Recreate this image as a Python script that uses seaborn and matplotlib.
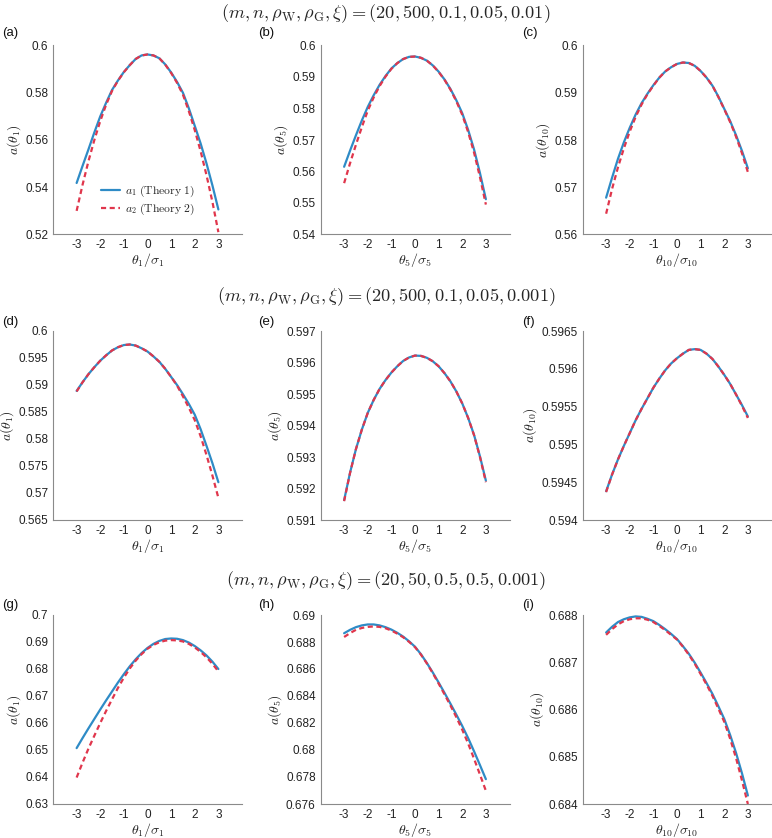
import numpy as np
import pandas as pd
import matplotlib
matplotlib.use("Agg")
import matplotlib.pyplot as plt
import seaborn as sns

sns.set_style("white")
plt.rcParams["font.family"] = ["Liberation Sans", "DejaVu Sans"]
plt.rcParams["mathtext.fontset"] = "cm"
plt.rcParams["axes.unicode_minus"] = False

# x grid (theta_k / sigma_k)
theta = [-3, -2.75, -2.5, -2.25, -2, -1.75, -1.5, -1.25, -1, -0.75, -0.5, -0.25, 0,
         0.25, 0.5, 0.75, 1, 1.25, 1.5, 1.75, 2, 2.25, 2.5, 2.75, 3]

# row 1: (20, 500, 0.1, 0.05, 0.01)
a1_a = [0.5418, 0.5490, 0.5560, 0.5632, 0.5700, 0.5758, 0.5812, 0.5852, 0.5888, 0.5917, 0.5943, 0.5958, 0.5962,
        0.5958, 0.5946, 0.5920, 0.5886, 0.5846, 0.5800, 0.5734, 0.5660, 0.5585, 0.5500, 0.5407, 0.5306]
a2_a = [0.5300, 0.5410, 0.5510, 0.5600, 0.5680, 0.5750, 0.5808, 0.5851, 0.5887, 0.5917, 0.5943, 0.5958, 0.5962,
        0.5958, 0.5946, 0.5919, 0.5884, 0.5842, 0.5792, 0.5722, 0.5642, 0.5552, 0.5450, 0.5337, 0.5210]
a1_b = [0.5615, 0.5666, 0.5715, 0.5762, 0.5805, 0.5842, 0.5875, 0.5903, 0.5927, 0.5944, 0.5957, 0.5964, 0.5965,
        0.5961, 0.5952, 0.5937, 0.5917, 0.5892, 0.5862, 0.5826, 0.5785, 0.5732, 0.5670, 0.5595, 0.5512]
a2_b = [0.5563, 0.5626, 0.5685, 0.5741, 0.5793, 0.5835, 0.5871, 0.5901, 0.5926, 0.5944, 0.5957, 0.5964, 0.5965,
        0.5961, 0.5952, 0.5937, 0.5916, 0.5891, 0.5860, 0.5823, 0.5780, 0.5725, 0.5660, 0.5582, 0.5495]
a1_c = [0.5678, 0.5720, 0.5760, 0.5795, 0.5826, 0.5854, 0.5878, 0.5898, 0.5916, 0.5932, 0.5945, 0.5954, 0.5961,
        0.5964, 0.5963, 0.5957, 0.5946, 0.5932, 0.5915, 0.5892, 0.5866, 0.5840, 0.5810, 0.5777, 0.5740]
a2_c = [0.5644, 0.5696, 0.5742, 0.5782, 0.5818, 0.5849, 0.5875, 0.5897, 0.5915, 0.5932, 0.5945, 0.5954, 0.5961,
        0.5964, 0.5963, 0.5957, 0.5946, 0.5932, 0.5915, 0.5891, 0.5865, 0.5838, 0.5807, 0.5772, 0.5732]

# row 2: (20, 500, 0.1, 0.05, 0.001)
a1_d = [0.5889, 0.5905, 0.5920, 0.5933, 0.5945, 0.5955, 0.5964, 0.5970, 0.5974, 0.5975, 0.5973, 0.5968, 0.5962,
        0.5953, 0.5943, 0.5930, 0.5915, 0.5900, 0.5883, 0.5865, 0.5845, 0.5818, 0.5787, 0.5755, 0.5720]
a2_d = [0.5888, 0.5905, 0.5920, 0.5933, 0.5945, 0.5955, 0.5964, 0.5970, 0.5974, 0.5975, 0.5973, 0.5968, 0.5962,
        0.5953, 0.5943, 0.5930, 0.5915, 0.5899, 0.5879, 0.5858, 0.5835, 0.5805, 0.5770, 0.5732, 0.5691]
a1_e = [0.59163, 0.59250, 0.59325, 0.59387, 0.59440, 0.59481, 0.59516, 0.59544, 0.59568, 0.59588, 0.59605, 0.59616, 0.59622,
        0.59621, 0.59615, 0.59604, 0.59588, 0.59566, 0.59540, 0.59508, 0.59470, 0.59424, 0.59370, 0.59302, 0.59225]
a2_e = [0.59160, 0.59249, 0.59325, 0.59387, 0.59440, 0.59481, 0.59516, 0.59544, 0.59568, 0.59588, 0.59605, 0.59616, 0.59622,
        0.59621, 0.59615, 0.59604, 0.59588, 0.59566, 0.59540, 0.59508, 0.59470, 0.59424, 0.59369, 0.59300, 0.59220]
a1_f = [0.59438, 0.59460, 0.59480, 0.59498, 0.59515, 0.59532, 0.59547, 0.59561, 0.59575, 0.59587, 0.59598, 0.59607, 0.59614,
        0.59620, 0.59625, 0.59626, 0.59625, 0.59620, 0.59613, 0.59603, 0.59592, 0.59580, 0.59566, 0.59552, 0.59537]
a2_f = [0.59437, 0.59460, 0.59480, 0.59498, 0.59515, 0.59532, 0.59547, 0.59561, 0.59575, 0.59587, 0.59598, 0.59607, 0.59614,
        0.59620, 0.59625, 0.59626, 0.59625, 0.59620, 0.59613, 0.59603, 0.59592, 0.59580, 0.59566, 0.59551, 0.59535]

# row 3: (20, 50, 0.5, 0.5, 0.001)
a1_g = [0.6507, 0.6544, 0.6580, 0.6615, 0.6650, 0.6684, 0.6717, 0.6750, 0.6781, 0.6810, 0.6836, 0.6859, 0.6878,
        0.6893, 0.6904, 0.6911, 0.6913, 0.6912, 0.6907, 0.6898, 0.6885, 0.6869, 0.6850, 0.6827, 0.6800]
a2_g = [0.6398, 0.6453, 0.6505, 0.6553, 0.6600, 0.6645, 0.6688, 0.6730, 0.6768, 0.6802, 0.6831, 0.6855, 0.6875,
        0.6889, 0.6899, 0.6905, 0.6907, 0.6906, 0.6902, 0.6893, 0.6880, 0.6863, 0.6843, 0.6819, 0.6791]
a1_h = [0.68865, 0.68890, 0.68910, 0.68923, 0.68930, 0.68930, 0.68923, 0.68910, 0.68892, 0.68868, 0.68840, 0.68805, 0.68765,
        0.68710, 0.68645, 0.68575, 0.68500, 0.68423, 0.68343, 0.68262, 0.68178, 0.68088, 0.67990, 0.67888, 0.67784]
a2_h = [0.68837, 0.68866, 0.68890, 0.68904, 0.68912, 0.68915, 0.68912, 0.68902, 0.68885, 0.68862, 0.68835, 0.68801, 0.68762,
        0.68707, 0.68642, 0.68570, 0.68492, 0.68412, 0.68330, 0.68243, 0.68150, 0.68048, 0.67935, 0.67818, 0.67698]
a1_i = [0.68763, 0.68775, 0.68785, 0.68791, 0.68795, 0.68797, 0.68796, 0.68792, 0.68787, 0.68779, 0.68770, 0.68760, 0.68749,
        0.68734, 0.68718, 0.68699, 0.68678, 0.68656, 0.68633, 0.68607, 0.68580, 0.68546, 0.68508, 0.68465, 0.68418]
a2_i = [0.68758, 0.68770, 0.68780, 0.68787, 0.68791, 0.68793, 0.68793, 0.68790, 0.68785, 0.68777, 0.68768, 0.68758, 0.68748,
        0.68733, 0.68716, 0.68697, 0.68675, 0.68653, 0.68629, 0.68602, 0.68574, 0.68538, 0.68497, 0.68450, 0.68400]

row_titles = [
    r"$(m,n,\rho_{\rm W},\rho_{\rm G},\xi)=(20,500,0.1,0.05,0.01)$",
    r"$(m,n,\rho_{\rm W},\rho_{\rm G},\xi)=(20,500,0.1,0.05,0.001)$",
    r"$(m,n,\rho_{\rm W},\rho_{\rm G},\xi)=(20,50,0.5,0.5,0.001)$",
]
panel_tags = ["(a)", "(b)", "(c)", "(d)", "(e)", "(f)", "(g)", "(h)", "(i)"]
idx = ["1", "5", "10"]
curves = [(a1_a, a2_a), (a1_b, a2_b), (a1_c, a2_c),
          (a1_d, a2_d), (a1_e, a2_e), (a1_f, a2_f),
          (a1_g, a2_g), (a1_h, a2_h), (a1_i, a2_i)]
# y range: (low, high, step)
yranges = [(0.52, 0.6, 0.02), (0.54, 0.6, 0.01), (0.56, 0.6, 0.01),
           (0.565, 0.6, 0.005), (0.591, 0.597, 0.001), (0.594, 0.5965, 0.0005),
           (0.63, 0.7, 0.01), (0.676, 0.69, 0.002), (0.684, 0.688, 0.001)]
xticks = [-3, -2, -1, 0, 1, 2, 3]

blue = "#2E8BC6"
red = "#E0364C"
spine_col = "#8a8a8a"

W, H = 772, 838
fig = plt.figure(figsize=(W / 100, H / 100), dpi=100)

lefts = [53, 320.5, 582.5]
tops = [45.5, 331, 615]
aw, ah = 189, 189

for k in range(9):
    r, c = divmod(k, 3)
    ax = fig.add_axes([lefts[c] / W, 1 - (tops[r] + ah) / H, aw / W, ah / H])
    y1, y2 = curves[k]
    df = pd.DataFrame({"x": theta * 2, "y": y1 + y2,
                       "curve": ["a1"] * len(theta) + ["a2"] * len(theta)})
    sns.lineplot(data=df[df.curve == "a1"], x="x", y="y", ax=ax, color=blue,
                 lw=1.6, label=r"$a_1\ \mathrm{(Theory\ 1)}$", legend=False)
    sns.lineplot(data=df[df.curve == "a2"], x="x", y="y", ax=ax, color=red,
                 lw=1.6, linestyle=(0, (2.3, 1.6)),
                 label=r"$a_2\ \mathrm{(Theory\ 2)}$", legend=False)
    lo, hi, st = yranges[k]
    yt = np.round(np.arange(lo, hi + st / 2, st), 6)
    ax.set_ylim(lo, hi)
    ax.set_yticks(yt)
    ax.set_yticklabels(["%g" % v for v in yt])
    ax.set_xlim(-4, 4)
    ax.set_xticks(xticks)
    ax.set_xticklabels([str(v) for v in xticks])
    for s in ["top", "right"]:
        ax.spines[s].set_visible(False)
    for s in ["left", "bottom"]:
        ax.spines[s].set_color(spine_col)
        ax.spines[s].set_linewidth(0.8)
    ax.tick_params(direction="in", length=2.5, width=0.6, color=spine_col,
                   labelsize=8.5, labelcolor="#222222")
    ax.tick_params(axis="y", pad=3.5)
    ax.tick_params(axis="x", pad=3.5)
    j = idx[c]
    ax.set_xlabel(r"$\theta_{%s}/\sigma_{%s}$" % (j, j), fontsize=10, labelpad=0, color="#222222")
    ax.set_ylabel(r"$a(\theta_{%s})$" % j, fontsize=10, labelpad=1.5, color="#222222")
    if k == 0:
        ax.legend(loc="center left", bbox_to_anchor=(0.2, 0.18), frameon=False,
                  handlelength=1.6, handletextpad=0.4, labelspacing=0.2, fontsize=8.4)

tag_x = [2, 258, 522]
tag_y = [33, 322, 605]
for k in range(9):
    r, c = divmod(k, 3)
    fig.text(tag_x[c] / W, 1 - tag_y[r] / H, panel_tags[k], fontsize=9.5,
             ha="left", va="center", color="#111111")

title_y = [14, 297, 581]
for r in range(3):
    fig.text(0.5, 1 - title_y[r] / H, row_titles[r], fontsize=13.2,
             ha="center", va="center")

fig.savefig("out.png", dpi=100)
